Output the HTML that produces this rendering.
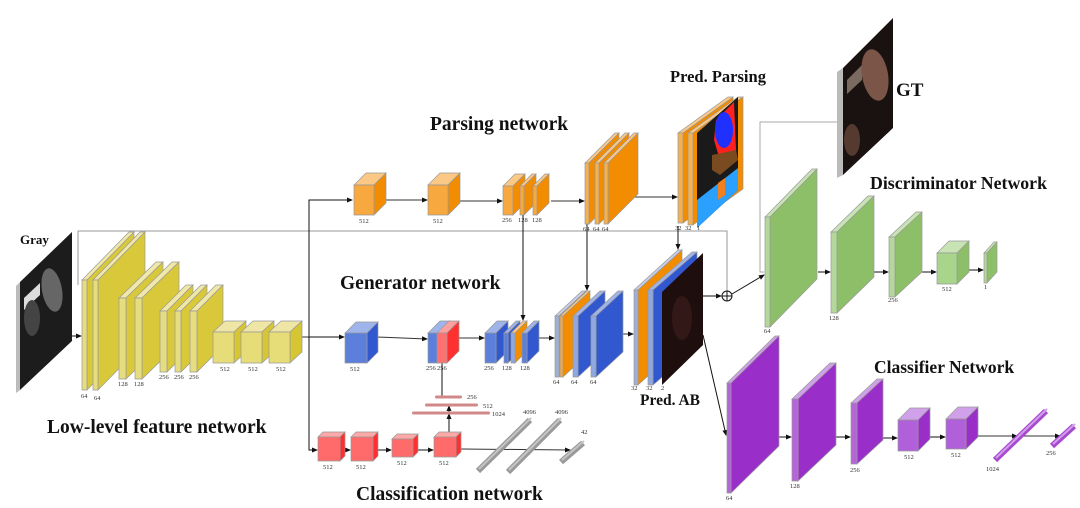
<!DOCTYPE html>
<html><head><meta charset="utf-8"><style>
html,body{margin:0;padding:0;background:#fff;width:1080px;height:508px;overflow:hidden}
svg{display:block}
.t{font-family:"Liberation Serif",serif;font-weight:bold;fill:#111}
.n{font-family:"Liberation Serif",serif;font-size:6.5px;fill:#333}
</style></head><body>
<svg id="s" width="1080" height="508" viewBox="0 0 1080 508" xmlns="http://www.w3.org/2000/svg">
<defs>
<marker id="a" markerWidth="6" markerHeight="6" refX="5" refY="3" orient="auto" markerUnits="userSpaceOnUse"><path d="M0,0.5 L6,3 L0,5.5z" fill="#111"/></marker>
</defs>
<g id="lines" fill="none" stroke-width="1">
<polyline points="78,285 78,231 727,231 727,291" stroke="#999"/>
<line x1="72" y1="336" x2="81" y2="336" stroke="#111" marker-end="url(#a)"/>
<line x1="290" y1="337" x2="309" y2="337" stroke="#333"/>
<polyline points="309,450 309,200 352,200" stroke="#111" marker-end="url(#a)"/>
<line x1="309" y1="337" x2="344" y2="337" stroke="#111" marker-end="url(#a)"/>
<polyline points="309,337 309,450 317,450" stroke="#111" marker-end="url(#a)"/>
<line x1="386" y1="200" x2="427" y2="200" stroke="#333" marker-end="url(#a)"/>
<line x1="460" y1="201" x2="502" y2="201" stroke="#333" marker-end="url(#a)"/>
<line x1="551" y1="201" x2="584" y2="201" stroke="#333" marker-end="url(#a)"/>
<line x1="633" y1="197" x2="677" y2="197" stroke="#333" marker-end="url(#a)"/>
<line x1="523" y1="215" x2="523" y2="320" stroke="#111" marker-end="url(#a)"/>
<line x1="587" y1="224" x2="587" y2="290" stroke="#111" marker-end="url(#a)"/>
<line x1="678" y1="226" x2="678" y2="249" stroke="#111" marker-end="url(#a)"/>
<line x1="377" y1="337" x2="427" y2="339" stroke="#333" marker-end="url(#a)"/>
<line x1="459" y1="338" x2="484" y2="338" stroke="#333" marker-end="url(#a)"/>
<line x1="539" y1="338" x2="554" y2="338" stroke="#333" marker-end="url(#a)"/>
<line x1="619" y1="334" x2="633" y2="334" stroke="#333" marker-end="url(#a)"/>
<line x1="703" y1="296" x2="721" y2="296" stroke="#111" marker-end="url(#a)"/>
<line x1="732" y1="294" x2="764" y2="275" stroke="#111" marker-end="url(#a)"/>
<line x1="703" y1="335" x2="726" y2="435" stroke="#111" marker-end="url(#a)"/>
<polyline points="838,122 760,122 760,272 764,272" stroke="#aaa"/>
<line x1="818" y1="272" x2="830" y2="272" stroke="#111" marker-end="url(#a)"/>
<line x1="874" y1="272" x2="888" y2="272" stroke="#111" marker-end="url(#a)"/>
<line x1="922" y1="272" x2="936" y2="272" stroke="#111" marker-end="url(#a)"/>
<line x1="969" y1="270" x2="983" y2="270" stroke="#111" marker-end="url(#a)"/>
<line x1="779" y1="437" x2="791" y2="437" stroke="#111" marker-end="url(#a)"/>
<line x1="836" y1="437" x2="850" y2="437" stroke="#111" marker-end="url(#a)"/>
<line x1="883" y1="438" x2="897" y2="438" stroke="#111" marker-end="url(#a)"/>
<line x1="930" y1="437" x2="945" y2="437" stroke="#111" marker-end="url(#a)"/>
<line x1="978" y1="436" x2="1017" y2="436" stroke="#333" marker-end="url(#a)"/>
<line x1="1020" y1="436" x2="1060" y2="436" stroke="#333" marker-end="url(#a)"/>
<line x1="340" y1="450" x2="350" y2="450" stroke="#111" marker-end="url(#a)"/>
<line x1="378" y1="450" x2="391" y2="450" stroke="#111" marker-end="url(#a)"/>
<line x1="418" y1="450" x2="433" y2="450" stroke="#111" marker-end="url(#a)"/>
<line x1="461" y1="449" x2="570" y2="450" stroke="#333" marker-end="url(#a)"/>
<line x1="449" y1="437" x2="449" y2="414" stroke="#111" marker-end="url(#a)"/>
<line x1="449" y1="412" x2="449" y2="406" stroke="#111" marker-end="url(#a)"/>
<line x1="442" y1="363" x2="442" y2="397" stroke="#111"/>
<circle cx="727" cy="296" r="5" stroke="#111"/>
<line x1="722" y1="296" x2="732" y2="296" stroke="#111"/>
<line x1="727" y1="291" x2="727" y2="301" stroke="#111"/>
</g>
<g id="bars"></g>
<g id="boxes"></g>
<g id="imgs">
<polygon points="16,286 20,282 20,390 16,393" fill="#bbb"/>
<polygon points="20,282 72,232 72,341 20,390" fill="#1c1c1c"/>
<polygon points="24,298 40,283 40,295 24,310" fill="#ddd"/>
<ellipse cx="52" cy="290" rx="10" ry="22" fill="#666" transform="rotate(-10 52 290)"/>
<ellipse cx="32" cy="318" rx="8" ry="18" fill="#444"/>
<polygon points="837,178 843,175 843,68 837,72" fill="#bbb"/>
<polygon points="843,68 893,18 893,128 843,175" fill="#1a1210"/>
<polygon points="847,80 862,65 862,80 847,94" fill="#7a6a60"/>
<ellipse cx="875" cy="75" rx="13" ry="26" fill="#7a5548" transform="rotate(-10 875 75)"/>
<ellipse cx="852" cy="140" rx="8" ry="16" fill="#553a30"/>
<polygon points="697,133 738,97 738,190 697,228" fill="#1a1a1a"/>
<polygon points="716,120 734,102 736,150 720,160 714,140" fill="#ff2020"/>
<ellipse cx="724" cy="130" rx="9" ry="18" fill="#2030ff"/>
<polygon points="712,155 736,150 738,160 720,175 712,170" fill="#7a4a20"/>
<polygon points="697,200 738,168 738,190 697,228" fill="#2aa0ff"/>
<polygon points="718,183 725,178 725,195 718,200" fill="#f08020"/>
<polygon points="662,292 703,253 703,345 662,385" fill="#1e0e0e"/>
<ellipse cx="682" cy="318" rx="10" ry="22" fill="#331818"/>
</g>
<g id="lbl"></g>
<text class="t" x="20" y="244" font-size="13">Gray</text>
<text class="t" x="47" y="433" font-size="19.5">Low-level feature network</text>
<text class="t" x="430" y="130" font-size="19.5">Parsing network</text>
<text class="t" x="340" y="289" font-size="19.5">Generator network</text>
<text class="t" x="356" y="500" font-size="19.5">Classification network</text>
<text class="t" x="670" y="82" font-size="16.5">Pred. Parsing</text>
<text class="t" x="640" y="405" font-size="15.5">Pred. AB</text>
<text class="t" x="896" y="96" font-size="19">GT</text>
<text class="t" x="870" y="189" font-size="17.8">Discriminator Network</text>
<text class="t" x="874" y="373" font-size="17.5">Classifier Network</text>
</svg>
<script>
var G=document.getElementById('boxes'),BR=document.getElementById('bars'),L=document.getElementById('lbl'),NS='http://www.w3.org/2000/svg';
function P(pts,f){var p=document.createElementNS(NS,'polygon');p.setAttribute('points',pts);p.setAttribute('fill',f);p.setAttribute('stroke','#999');p.setAttribute('stroke-width','0.7');G.appendChild(p);}
function B(x,y,w,h,dx,dy,f,s,t){
P(x+','+y+' '+(x+w)+','+y+' '+(x+w+dx)+','+(y-dy)+' '+(x+dx)+','+(y-dy),t);
P((x+w)+','+y+' '+(x+w+dx)+','+(y-dy)+' '+(x+w+dx)+','+(y+h-dy)+' '+(x+w)+','+(y+h),s);
P(x+','+y+' '+(x+w)+','+y+' '+(x+w)+','+(y+h)+' '+x+','+(y+h),f);}
function T(x,y,s){var t=document.createElementNS(NS,'text');t.setAttribute('x',x);t.setAttribute('y',y);t.setAttribute('class','n');t.textContent=s;L.appendChild(t);}
function Ln(x1,y1,x2,y2,c,w){var l=document.createElementNS(NS,'line');l.setAttribute('x1',x1);l.setAttribute('y1',y1);l.setAttribute('x2',x2);l.setAttribute('y2',y2);l.setAttribute('stroke',c);l.setAttribute('stroke-width',w);BR.appendChild(l);}
function bar(x1,y1,x2,y2,c1,c2){Ln(x1,y1,x2,y2,c1,6);Ln(x1+1,y1-2,x2+1,y2-2,c2,2);}
var Y=['#e6dc80','#d9c93a','#f0e8a8'],Yc=['#e6dc78','#d6c634','#efe6a6'];
B(82,280,5,110,47,48,Y[0],Y[1],Y[2]);B(93,280,5,110,47,48,Y[0],Y[1],Y[2]);
B(119,298,7,81,37,36,Y[0],Y[1],Y[2]);B(135,298,7,81,37,36,Y[0],Y[1],Y[2]);
B(160,311,7,61,26,26,Y[0],Y[1],Y[2]);B(175,311,6,61,26,26,Y[0],Y[1],Y[2]);B(190,311,7,61,26,26,Y[0],Y[1],Y[2]);
B(213,332,21,31,12,11,Yc[0],Yc[1],Yc[2]);B(241,332,21,31,12,11,Yc[0],Yc[1],Yc[2]);B(269,332,21,31,12,11,Yc[0],Yc[1],Yc[2]);
T(81,398,'64');T(94,400,'64');T(118,386,'128');T(134,386,'128');T(159,379,'256');T(174,379,'256');T(189,379,'256');T(220,371,'512');T(248,371,'512');T(276,371,'512');
var O=['#f7a83e','#f28c00','#fbc985'];
B(354,185,20,30,12,12,O[0],O[1],O[2]);B(428,185,20,30,12,12,O[0],O[1],O[2]);
B(503,186,10,29,12,12,O[0],O[1],O[2]);B(520,186,4,29,12,12,O[0],O[1],O[2]);B(533,186,4,29,12,12,O[0],O[1],O[2]);
T(359,223,'512');T(433,223,'512');T(502,222,'256');T(518,222,'128');T(532,222,'128');
B(585,163,4,61,30,30,'#f5b050',O[1],O[2]);B(595,163,4,61,30,30,'#f5b050',O[1],O[2]);B(604,163,4,61,30,30,'#f5b050',O[1],O[2]);
T(583,231,'64');T(593,231,'64');T(602,231,'64');
B(678,133,5,90,50,36,'#f5b050',O[1],O[2]);B(688,133,5,92,50,36,'#f5b050',O[1],O[2]);
T(675,230,'32');T(685,230,'32');T(697,230,'1');
var Bl=['#5b7fdb','#3258d0','#a0b4ec'];
B(345,333,22,30,11,11,Bl[0],Bl[1],Bl[2]);
B(428,333,10,30,12,12,Bl[0],'#ff3333','#a0b4ec');B(437,333,10,30,12,12,'#ff7070','#ff3030','#ffa0a0');
T(350,371,'512');T(426,370,'256');T(437,370,'256');
B(485,333,11,30,12,12,Bl[0],Bl[1],Bl[2]);B(504,333,4,30,12,12,Bl[0],Bl[1],Bl[2]);B(511,333,4,30,12,12,'#8fa8e0',O[1],O[2]);B(522,333,5,30,12,12,Bl[0],Bl[1],Bl[2]);
T(484,370,'256');T(502,370,'128');T(520,370,'128');
B(555,316,4,61,27,25,'#9fb0d8',O[1],'#c8d0e8');B(560,316,3,61,27,25,O[0],O[1],O[2]);B(573,316,5,61,27,25,'#8fa8e0',Bl[1],Bl[2]);B(591,316,5,61,27,25,'#8fa8e0',Bl[1],Bl[2]);
T(553,384,'64');T(571,384,'64');T(590,384,'64');
B(634,290,4,95,44,40,'#9fb0d8',O[1],'#c8d0e8');B(648,290,5,95,44,38,'#8fa8e0',Bl[1],Bl[2]);
T(631,390,'32');T(646,390,'32');T(661,390,'2');
var R=['#ff6b6b','#ff2f2f','#ffa8a8'];
B(318,437,22,24,5,5,R[0],R[1],R[2]);B(351,437,22,24,5,5,R[0],R[1],R[2]);B(392,439,21,18,5,5,R[0],R[1],R[2]);B(434,437,22,20,5,5,R[0],R[1],R[2]);
T(323,469,'512');T(356,469,'512');T(397,465,'512');T(439,465,'512');
var rb='#d08888';
[[435,462,397],[425,478,405],[412,490,413]].forEach(function(b){var r=document.createElementNS(NS,'rect');r.setAttribute('x',b[0]);r.setAttribute('y',b[2]-1.5);r.setAttribute('width',b[1]-b[0]);r.setAttribute('height',3);r.setAttribute('rx',1.5);r.setAttribute('fill',rb);G.appendChild(r);});
T(467,399,'256');T(483,408,'512');T(492,416,'1024');
bar(478,471,530,420,'#999','#c4c4c4');bar(508,472,560,420,'#999','#c4c4c4');bar(561,462,583,443,'#999','#c4c4c4');
T(523,414,'4096');T(555,414,'4096');T(581,434,'42');
var Gr=['#b4d89a','#8dbf68','#c8e4b4'];
B(765,217,5,110,47,48,Gr[0],Gr[1],Gr[2]);B(831,232,6,81,37,36,Gr[0],Gr[1],Gr[2]);B(889,237,6,60,27,25,Gr[0],Gr[1],Gr[2]);
B(937,253,20,31,12,12,'#a8d48c',Gr[1],Gr[2]);B(984,253,3,30,10,11,Gr[0],Gr[1],Gr[2]);
T(764,333,'64');T(829,320,'128');T(888,302,'256');T(942,291,'512');T(984,289,'1');
var Pu=['#b565da','#9a2ec8','#d0a0ea'];
B(727,383,4,110,48,47,Pu[0],Pu[1],Pu[2]);B(792,399,6,82,38,36,Pu[0],Pu[1],Pu[2]);B(851,403,6,61,26,24,Pu[0],Pu[1],Pu[2]);
B(898,420,20,31,12,12,'#b060d8',Pu[1],Pu[2]);B(946,419,20,30,12,12,'#b060d8',Pu[1],Pu[2]);
bar(995,460,1046,411,'#a84ad0','#d0a0ea');bar(1052,446,1074,426,'#a84ad0','#d0a0ea');
T(726,500,'64');T(790,488,'128');T(850,472,'256');T(904,459,'512');T(951,457,'512');T(986,471,'1024');T(1046,455,'256');
</script>
</body></html>
